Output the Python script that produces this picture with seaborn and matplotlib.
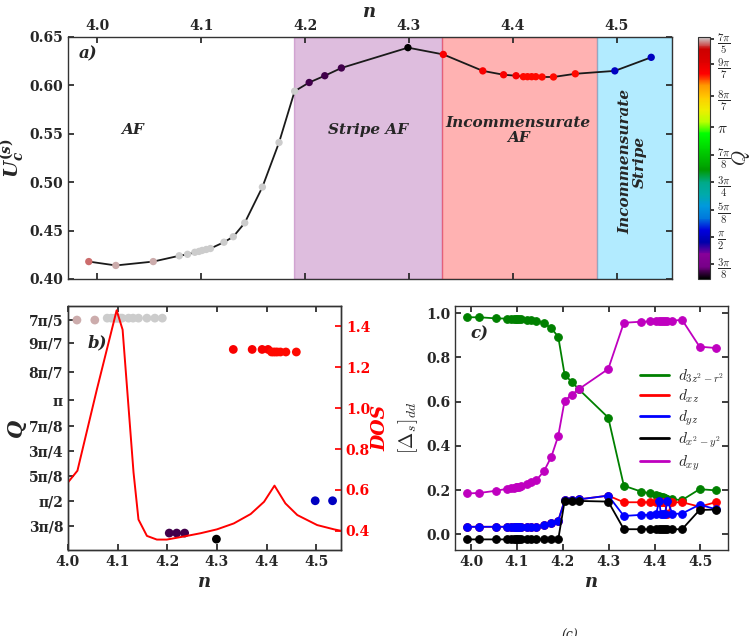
import numpy as np
import pandas as pd
import matplotlib
matplotlib.use("Agg")
import matplotlib.pyplot as plt
import seaborn as sns
from matplotlib.lines import Line2D
from matplotlib.ticker import FixedLocator, FuncFormatter

# ---------------- data ----------------
n = [3.992, 4.018, 4.054, 4.079, 4.087, 4.094, 4.098, 4.101, 4.105, 4.109, 4.122, 4.131, 4.142, 4.159, 4.175, 4.190,
     4.204, 4.219, 4.235, 4.299,
     4.333, 4.371, 4.391, 4.403, 4.410, 4.414, 4.418, 4.422, 4.428, 4.439, 4.460,
     4.498, 4.533]
U_c = [0.418, 0.414, 0.418, 0.424, 0.4255, 0.4276, 0.4285, 0.4295, 0.4305, 0.4315, 0.438, 0.4437, 0.458, 0.495, 0.541, 0.594,
       0.603, 0.610, 0.618, 0.639,
       0.632, 0.615, 0.611, 0.610, 0.609, 0.609, 0.609, 0.609, 0.6087, 0.6087, 0.612,
       0.615, 0.629]
Q = [4.34, 4.40, 4.40, 4.43, 4.43, 4.43, 4.43, 4.43, 4.43, 4.43, 4.43, 4.43, 4.43, 4.43, 4.43, 4.43,
     1.065, 1.065, 1.065, 0.97,
     3.94, 3.94, 3.94, 3.94, 3.90, 3.90, 3.90, 3.90, 3.90, 3.90, 3.90,
     1.571, 1.571]

d_3z2r2 = [0.982, 0.982, 0.977, 0.976, 0.976, 0.975, 0.975, 0.974, 0.973, 0.972, 0.971, 0.969, 0.967, 0.955, 0.932, 0.894,
           0.721, 0.691, 0.656, 0.528,
           0.220, 0.193, 0.185, 0.180, 0.175, 0.170, 0.168, 0.165, 0.162, 0.158, 0.155,
           0.204, 0.199]
d_xz = [0.034, 0.034, 0.034, 0.034, 0.034, 0.034, 0.034, 0.034, 0.034, 0.034, 0.034, 0.034, 0.034, 0.042, 0.050, 0.062,
        0.153, 0.156, 0.158, 0.175,
        0.145, 0.145, 0.145, 0.145, 0.145, 0.145, 0.145, 0.145, 0.090, 0.145, 0.145,
        0.125, 0.145]
d_yz = [0.034, 0.034, 0.034, 0.034, 0.034, 0.034, 0.034, 0.034, 0.034, 0.034, 0.034, 0.034, 0.034, 0.042, 0.050, 0.062,
        0.153, 0.156, 0.158, 0.175,
        0.083, 0.088, 0.088, 0.090, 0.150, 0.090, 0.090, 0.090, 0.150, 0.092, 0.094,
        0.134, 0.114]
d_x2y2 = [-0.023, -0.023, -0.023, -0.023, -0.023, -0.023, -0.023, -0.023, -0.023, -0.023, -0.023, -0.023, -0.023, -0.023, -0.023, -0.023,
          0.151, 0.151, 0.151, 0.148,
          0.023, 0.023, 0.023, 0.023, 0.023, 0.023, 0.023, 0.023, 0.023, 0.023, 0.023,
          0.110, 0.112]
d_xy = [0.185, 0.187, 0.197, 0.206, 0.208, 0.210, 0.212, 0.213, 0.215, 0.217, 0.226, 0.235, 0.244, 0.286, 0.351, 0.445,
        0.605, 0.630, 0.657, 0.748,
        0.957, 0.962, 0.963, 0.964, 0.965, 0.965, 0.965, 0.966, 0.966, 0.967, 0.970,
        0.849, 0.843]

dos_n = [4.000, 4.019, 4.058, 4.098, 4.110, 4.132, 4.142, 4.159, 4.179, 4.199, 4.233, 4.267, 4.300, 4.334,
         4.368, 4.395, 4.416, 4.438, 4.462, 4.502, 4.536, 4.550]
dos_val = [0.637, 0.694, 1.090, 1.479, 1.384, 0.686, 0.455, 0.375, 0.357, 0.357, 0.372, 0.388, 0.407, 0.436,
           0.482, 0.542, 0.621, 0.534, 0.477, 0.428, 0.407, 0.400]

phase_bounds = [4.189, 4.332, 4.481, 4.553]
phase_colors = [(0.5, 0.0, 0.5), (1.0, 0.0, 0.0), (0.0, 0.75, 1.0)]
phase_alpha = [0.26, 0.30, 0.30]

q_ticks = [3*np.pi/8, np.pi/2, 5*np.pi/8, 3*np.pi/4, 7*np.pi/8, np.pi, 8*np.pi/7, 9*np.pi/7, 7*np.pi/5]
q_cbar_labels = [r'$\frac{3\pi}{8}$', r'$\frac{\pi}{2}$', r'$\frac{5\pi}{8}$', r'$\frac{3\pi}{4}$',
                 r'$\frac{7\pi}{8}$', r'$\pi$', r'$\frac{8\pi}{7}$', r'$\frac{9\pi}{7}$', r'$\frac{7\pi}{5}$']
q_axis_labels = ['3π/8', 'π/2', '5π/8', '3π/4', '7π/8', 'π', '8π/7', '9π/7', '7π/5']

orb_labels = [r'$d_{3z^2-r^2}$', r'$d_{xz}$', r'$d_{yz}$', r'$d_{x^2-y^2}$', r'$d_{xy}$']
orb_colors = [(0.0, 0.5, 0.0), (1.0, 0.0, 0.0), (0.0, 0.0, 1.0), (0.0, 0.0, 0.0), (0.75, 0.0, 0.75)]

# ---------------- style ----------------
sns.set_theme(style="ticks")
plt.rcParams.update({
    "mathtext.fontset": "cm",
    "mathtext.it": "DejaVu Serif:italic:bold",
    "mathtext.rm": "DejaVu Serif:bold",
    "mathtext.bf": "DejaVu Serif:bold",
    "axes.edgecolor": "#333333",
    "axes.linewidth": 1.0,
    "font.family": ["DejaVu Serif"],
    "font.weight": "bold",
    "axes.labelweight": "bold",
})
BI = dict(family="DejaVu Serif", weight="bold", style="italic")

W, H = 755, 636
fig = plt.figure(figsize=(W / 100, H / 100), dpi=100)

def box(l, t, r, b):
    return [l / W, 1 - b / H, (r - l) / W, (b - t) / H]

axA = fig.add_axes(box(68, 37, 672, 279))
cax = fig.add_axes(box(698, 37, 710, 279))
axB = fig.add_axes(box(68, 306, 341, 550))
axC = fig.add_axes(box(455, 306, 728, 550))

bf2 = FuncFormatter(lambda v, p: '%.2f' % v)
bf1 = FuncFormatter(lambda v, p: '%.1f' % v)
TS = 10

norm = plt.Normalize(min(Q), max(Q))
cmap = plt.get_cmap("nipy_spectral")

# ---------------- panel a ----------------
for i in range(3):
    axA.axvspan(phase_bounds[i], phase_bounds[i + 1], facecolor=phase_colors[i], alpha=phase_alpha[i],
                edgecolor=phase_colors[i], lw=1.0, zorder=0)
sns.lineplot(x=n, y=U_c, color="k", lw=1.3, sort=False, estimator=None, ax=axA, zorder=2)
sns.scatterplot(x=n, y=U_c, hue=Q, palette=cmap, hue_norm=norm, s=28, edgecolor="none",
                legend=False, ax=axA, zorder=3)
axA.set_xlim(3.972, 4.553)
axA.set_ylim(0.40, 0.65)
axA.xaxis.set_major_locator(FixedLocator([4.0, 4.1, 4.2, 4.3, 4.4, 4.5]))
axA.yaxis.set_major_locator(FixedLocator([0.40, 0.45, 0.50, 0.55, 0.60, 0.65]))
axA.xaxis.set_major_formatter(bf1)
axA.yaxis.set_major_formatter(bf2)
axA.tick_params(axis="x", top=True, bottom=True, labeltop=True, labelbottom=False, direction="in",
                labelsize=TS, length=4, pad=3)
axA.tick_params(axis="y", left=True, right=True, direction="in", labelsize=TS, length=4)
axA.xaxis.set_label_position("top")
axA.set_xlabel("n", fontsize=13, labelpad=1, **BI)
axA.set_ylabel(r'$U_c^{(s)}$', fontsize=14, math_fontfamily="custom")
axA.yaxis.set_label_coords(-0.068, 0.5)
axA.text(4.034, 0.554, "AF", ha="center", va="center", fontsize=11, **BI)
axA.text(4.261, 0.554, "Stripe AF", ha="center", va="center", fontsize=11, **BI)
axA.text(4.405, 0.553, "Incommensurate\nAF", ha="center", va="center", fontsize=11,
         linespacing=1.1, **BI)
axA.text(4.515, 0.521, "Incommensurate\nStripe", ha="center", va="center", rotation=90,
         fontsize=11, linespacing=1.1, **BI)
axA.text(0.018, 0.93, "a)", transform=axA.transAxes, ha="left", va="center", fontsize=12, **BI)

# colorbar
sm = plt.cm.ScalarMappable(norm=norm, cmap=cmap)
cb = fig.colorbar(sm, cax=cax)
cb.set_ticks(q_ticks)
cb.set_ticklabels(q_cbar_labels)
cb.ax.tick_params(labelsize=11, length=3, pad=2)
cb.outline.set_linewidth(0.8)
cb.set_label(r'$Q$', fontsize=14, labelpad=0)

# ---------------- panel b ----------------
sns.scatterplot(x=n, y=Q, hue=Q, palette=cmap, hue_norm=norm, s=40, edgecolor="none",
                legend=False, ax=axB, zorder=3)
axB.set_xlim(4.0, 4.55)
axB.set_ylim(0.80, 4.62)
axB.yaxis.set_major_locator(FixedLocator(q_ticks))
axB.set_yticklabels(q_axis_labels)
axB.xaxis.set_major_locator(FixedLocator([4.0, 4.1, 4.2, 4.3, 4.4, 4.5]))
axB.xaxis.set_major_formatter(bf1)
axB.tick_params(axis="x", top=True, bottom=True, direction="in", labelsize=TS, length=4)
axB.tick_params(axis="y", left=True, direction="in", labelsize=TS, length=4)
axB.set_xlabel("n", fontsize=13, labelpad=3, **BI)
axB.set_ylabel("Q", fontsize=15, labelpad=2, **BI)
axB.text(0.07, 0.85, "b)", transform=axB.transAxes, ha="left", va="center", fontsize=12, **BI)

axB2 = axB.twinx()
axB2.set_position(box(68, 306, 341, 550))
sns.lineplot(x=dos_n, y=dos_val, color="red", lw=1.4, sort=False, estimator=None, ax=axB2)
axB2.set_ylim(0.306, 1.50)
axB2.set_xlim(4.0, 4.55)
axB2.yaxis.set_major_locator(FixedLocator([0.4, 0.6, 0.8, 1.0, 1.2, 1.4]))
axB2.yaxis.set_major_formatter(bf1)
axB2.tick_params(axis="y", right=True, direction="in", labelsize=TS, length=4, colors="red")
axB2.set_ylabel("DOS", fontsize=13.5, color="red", rotation=90, labelpad=1, **BI)

# ---------------- panel c ----------------
series = [d_3z2r2, d_xz, d_yz, d_x2y2, d_xy]
for vals, col in zip(series, orb_colors):
    sns.lineplot(x=n, y=vals, color=col, lw=1.3, marker="o", markersize=5.5,
                 markeredgecolor=col, sort=False, estimator=None, ax=axC, legend=False)
axC.xaxis.set_major_locator(FixedLocator([4.0, 4.1, 4.2, 4.3, 4.4, 4.5]))
axC.yaxis.set_major_locator(FixedLocator([0.0, 0.2, 0.4, 0.6, 0.8, 1.0]))
axC.xaxis.set_major_formatter(bf1)
axC.yaxis.set_major_formatter(bf1)
axC.set_xlim(3.965, 4.56)
axC.set_ylim(-0.071, 1.033)
axC.tick_params(axis="both", top=True, right=True, direction="in", labelsize=TS, length=4)
axC.set_xlabel("n", fontsize=13, labelpad=3, **BI)
axC.set_ylabel(r'$[\Delta_s]_{dd}$', fontsize=14, labelpad=4)
axC.text(0.055, 0.885, "c)", transform=axC.transAxes, ha="left", va="center", fontsize=12, **BI)
handles = [Line2D([], [], color=c, lw=2) for c in orb_colors]
axC.legend(handles, orb_labels, loc="upper left", bbox_to_anchor=(0.655, 0.775), frameon=False,
           fontsize=11, handlelength=1.9, handletextpad=0.6, labelspacing=0.2, borderaxespad=0.0)

fig.text(570 / W, 1 - 629 / H, "(c)", ha="center", va="top", fontsize=9, family="DejaVu Serif",
         style="italic", weight="normal")

fig.savefig("out.png", dpi=100)
